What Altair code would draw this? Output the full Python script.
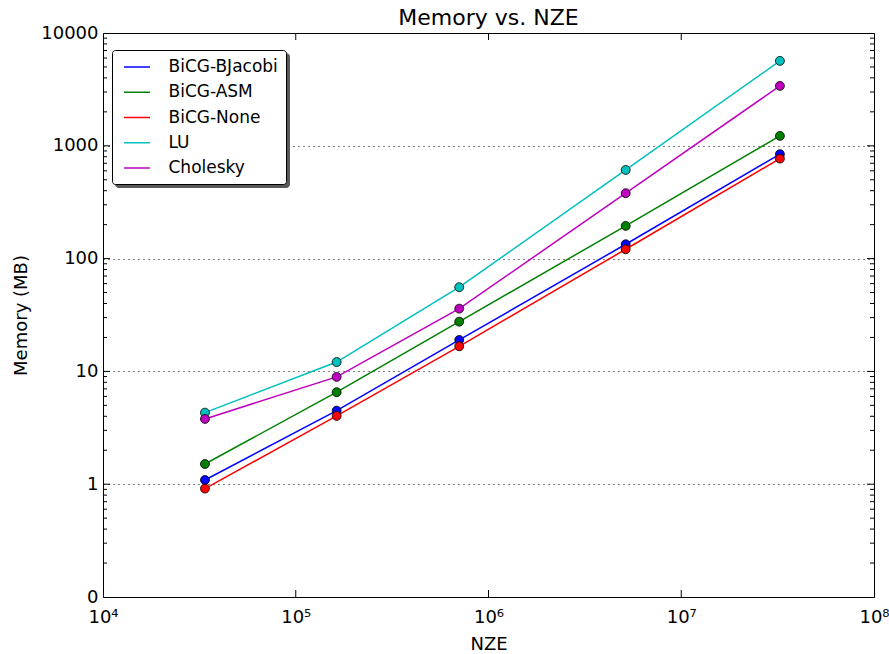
import altair as alt
import pandas as pd

# ---- data ----
series = ["BiCG-BJacobi", "BiCG-ASM", "BiCG-None", "LU", "Cholesky"]
colors = ["#0000ff", "#008000", "#ff0000", "#00bfbf", "#bf00bf"]
nze = [33800, 163000, 705000, 5150000, 32500000]
mem_bjacobi = [1.09, 4.49, 19.0, 134, 843]
mem_asm = [1.51, 6.54, 27.6, 195, 1224]
mem_none = [0.914, 4.03, 16.7, 121, 770]
mem_lu = [4.31, 12.1, 55.8, 611, 5660]
mem_chol = [3.79, 8.94, 36.0, 380, 3397]

y_tick_values = [0.1, 1, 10, 100, 1000, 10000]   # 0.1 is shown as "0"
y_major_inner = [1, 10, 100, 1000]
y_minor = [m * 10.0 ** e for e in range(-1, 4) for m in range(2, 10)]
x_tick_values = [1e4, 1e5, 1e6, 1e7, 1e8]
x_tick_labels = ["10⁴", "10⁵", "10⁶", "10⁷", "10⁸"]
x_major_inner = [1e5, 1e6, 1e7]

W, H = 771, 564
FONT = "DejaVu Sans"

rows = []
for name, vals in zip(series, [mem_bjacobi, mem_asm, mem_none, mem_lu, mem_chol]):
    for xv, yv in zip(nze, vals):
        rows.append({"series": name, "nze": xv, "mem": yv, "shadow": name})
df = pd.DataFrame(rows)

xscale = alt.Scale(type="log", domain=[1e4, 1e8], nice=False)
yscale = alt.Scale(type="log", domain=[0.1, 10000], nice=False)

x_label_expr = "[" + ",".join("'%s'" % l for l in x_tick_labels) + "][round(log(datum.value)/LN10)-4]"

xaxis = alt.Axis(values=x_tick_values, labelExpr=x_label_expr, ticks=False, domain=False,
                 grid=False, labelFontSize=18, labelPadding=11, labelFlush=False,
                 labelColor="black", title="NZE", titleFontSize=18, titleFontWeight="normal",
                 titleColor="black", titlePadding=9)
yaxis = alt.Axis(values=y_tick_values,
                 labelExpr="datum.value < 0.5 ? '0' : format(datum.value, 'd')",
                 ticks=False, domain=False, grid=True, gridColor="black", gridDash=[1, 4],
                 gridWidth=1, labelFontSize=18, labelPadding=5, labelFlush=False,
                 labelColor="black", title="Memory (MB)", titleFontSize=18,
                 titleFontWeight="normal", titleColor="black", titlePadding=10)

# legend symbol: a short horizontal line drawn from the legend's own entries
legend_path = "M-0.588,0H2.47"
common_leg = dict(orient="none", title=None, padding=7.5, cornerRadius=3,
                  symbolType=legend_path, symbolSize=289, symbolStrokeWidth=1.5,
                  labelFontSize=17, labelFont=FONT, rowPadding=7.25, labelLimit=300)
main_legend = alt.Legend(legendX=9, legendY=17, fillColor="white", strokeColor="black",
                         labelColor="black", labelOffset=30, zindex=2, **common_leg)
shadow_legend = alt.Legend(legendX=12, legendY=20, fillColor="#595959", strokeColor="#595959",
                           symbolOpacity=0, labelExpr="''", labelOffset=140, zindex=1,
                           **common_leg)

def yrule(values, x0, x1):
    return alt.Chart(pd.DataFrame({"v": values})).mark_rule(color="black", strokeWidth=1).encode(
        y=alt.Y("v:Q", scale=yscale, axis=yaxis), x=alt.value(x0), x2=alt.value(x1))

def xrule(values, y0, y1):
    return alt.Chart(pd.DataFrame({"v": values})).mark_rule(color="black", strokeWidth=1).encode(
        x=alt.X("v:Q", scale=xscale, axis=xaxis), y=alt.value(y0), y2=alt.value(y1))

MAJ, MIN = 7, 4
ticks = [
    yrule(y_major_inner, 0, MAJ), yrule(y_major_inner, W - MAJ, W),
    yrule(y_minor, 0, MIN), yrule(y_minor, W - MIN, W),
    xrule(x_major_inner, H - MAJ, H), xrule(x_major_inner, 0, MAJ),
]

lines = alt.Chart(df).mark_line(strokeWidth=1.5).encode(
    x=alt.X("nze:Q", scale=xscale, axis=xaxis),
    y=alt.Y("mem:Q", scale=yscale, axis=yaxis),
    color=alt.Color("series:N", scale=alt.Scale(domain=series, range=colors),
                    sort=series, legend=main_legend),
)

points = alt.Chart(df).mark_point(filled=True, size=80, stroke="black", strokeWidth=0.8,
                                  opacity=1).encode(
    x=alt.X("nze:Q", scale=xscale, axis=xaxis),
    y=alt.Y("mem:Q", scale=yscale, axis=yaxis),
    fill=alt.Fill("series:N", scale=alt.Scale(domain=series, range=colors), legend=None),
    shape=alt.Shape("shadow:N", scale=alt.Scale(range=["circle"]), legend=shadow_legend),
)

chart = alt.layer(lines, points, *ticks).properties(
    width=W, height=H,
    title=alt.Title("Memory vs. NZE", fontSize=22, font=FONT, fontWeight="normal",
                    color="black", anchor="middle", offset=0, dy=6),
    autosize=alt.AutoSizeParams(type="none"),
    padding={"left": 103, "top": 33, "right": 15, "bottom": 57},
).configure(font=FONT).configure_view(stroke="black", strokeWidth=1)

chart.save("out.html", embed_options={"renderer": "svg", "actions": False})
